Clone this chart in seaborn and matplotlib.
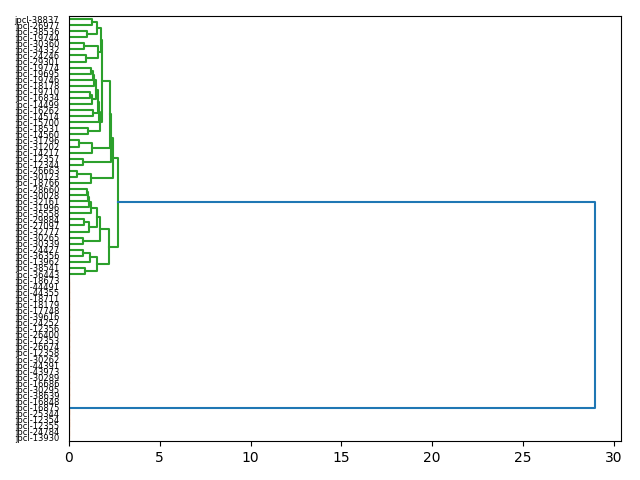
import matplotlib
matplotlib.use("Agg")
import matplotlib.pyplot as plt
import seaborn as sns
import pandas as pd

# Leaf labels, top to bottom
leaf_labels = [
    "jpcl-38837", "jpcl-26977", "jpcl-38536", "jpcl-19744", "jpcl-30360",
    "jpcl-34332", "jpcl-24246", "jpcl-29301", "jpcl-19774", "jpcl-19695",
    "jpcl-19746", "jpcl-18178", "jpcl-19710", "jpcl-16834", "jpcl-14499",
    "jpcl-16262", "jpcl-14514", "jpcl-15700", "jpcl-18531", "jpcl-14560",
    "jpcl-31796", "jpcl-31202", "jpcl-14217", "jpcl-12357", "jpcl-12344",
    "jpcl-26663", "jpcl-30123", "jpcl-18766", "jpcl-28660", "jpcl-30028",
    "jpcl-32161", "jpcl-31996", "jpcl-35558", "jpcl-29884", "jpcl-27097",
    "jpcl-32777", "jpcl-30265", "jpcl-30339", "jpcl-24427", "jpcl-36356",
    "jpcl-13962", "jpcl-38541", "jpcl-36443", "jpcl-18673", "jpcl-44491",
    "jpcl-44355", "jpcl-18711", "jpcl-18179", "jpcl-17748", "jpcl-39616",
    "jpcl-24252", "jpcl-12356", "jpcl-26400", "jpcl-12353", "jpcl-26674",
    "jpcl-12358", "jpcl-30262", "jpcl-44391", "jpcl-43973", "jpcl-30289",
    "jpcl-16686", "jpcl-30295", "jpcl-38639", "jpcl-16848", "jpcl-16875",
    "jpcl-25344", "jpcl-12354", "jpcl-12355", "jpcl-24784", "jpcl-13930",
]

# Linkage: merge k creates node 70+k from (merge_a[k], merge_b[k]) at merge_h[k]
merge_a = [0, 2, 70, 4, 6, 73, 72, 8, 77, 78,
           12, 80, 79, 15, 82, 84, 18, 85, 76, 20,
           89, 88, 23, 91, 25, 94, 93, 28, 97, 98,
           99, 33, 101, 100, 36, 103, 38, 106, 41, 107,
           105, 96,
           43, 112, 113, 114, 115, 116, 117, 118, 119, 120,
           121, 122, 123, 124, 125, 126, 127, 128, 129, 130,
           64, 66, 68, 133, 132, 131, 111]
merge_b = [1, 3, 71, 5, 7, 74, 75, 9, 10, 11,
           13, 14, 81, 16, 83, 17, 19, 86, 87, 21,
           22, 90, 24, 92, 26, 27, 95, 29, 30, 31,
           32, 34, 35, 102, 37, 104, 39, 40, 42, 108,
           109, 110,
           44, 45, 46, 47, 48, 49, 50, 51, 52, 53,
           54, 55, 56, 57, 58, 59, 60, 61, 62, 63,
           65, 67, 69, 134, 135, 136, 137]
merge_h = [1.28, 0.97, 1.52, 0.80, 0.95, 1.62, 1.74, 1.21, 1.30, 1.40,
           1.15, 1.25, 1.50, 1.34, 1.60, 1.65, 1.07, 1.70, 1.80, 0.57,
           1.25, 2.26, 0.79, 2.32, 0.42, 1.21, 2.41, 0.98, 1.05, 1.12,
           1.20, 0.84, 1.12, 1.55, 0.79, 1.71, 0.79, 1.16, 0.88, 1.55,
           2.20, 2.72,
           0, 0, 0, 0, 0, 0, 0, 0, 0, 0,
           0, 0, 0, 0, 0, 0, 0, 0, 0, 0,
           0, 0, 0, 0, 0, 0, 28.96]

n = len(leaf_labels)
pos = {i: 10 * (n - 1 - i) + 5 for i in range(n)}
hgt = {i: 0.0 for i in range(n)}
children = {}
for k, (a, b, h) in enumerate(zip(merge_a, merge_b, merge_h)):
    node = n + k
    pos[node] = (pos[a] + pos[b]) / 2
    hgt[node] = h
    children[node] = (a, b)

root = n + len(merge_h) - 1
threshold = 0.7 * max(merge_h)
palette_cycle = ["#ff7f0e", "#2ca02c", "#d62728", "#9467bd"]
above_color = "#1f77b4"

node_color = {}
cluster_roots = []


def find_clusters(node):
    if node < n:
        return
    if hgt[node] > threshold:
        node_color[node] = above_color
        for c in children[node]:
            find_clusters(c)
    else:
        cluster_roots.append(node)


find_clusters(root)
# colours assigned in leaf order (bottom first)
cluster_roots.sort(key=lambda c: pos[c])


def paint(node, col):
    if node < n:
        return
    node_color[node] = col
    for c in children[node]:
        paint(c, col)


for i, c in enumerate(cluster_roots):
    paint(c, palette_cycle[i % len(palette_cycle)])

rows = []
for node, (a, b) in children.items():
    xs = [hgt[a], hgt[node], hgt[node], hgt[b]]
    ys = [pos[a], pos[a], pos[b], pos[b]]
    for j in range(4):
        rows.append({"x": xs[j], "y": ys[j], "link": node, "order": j,
                     "color": node_color[node]})
df = pd.DataFrame(rows)

fig, ax = plt.subplots(figsize=(6.4, 4.8), dpi=100)
fig.subplots_adjust(left=0.1078, right=0.9703, top=0.9667, bottom=0.0813)

colors = list(dict.fromkeys(df["color"]))
sns.lineplot(data=df, x="x", y="y", units="link", estimator=None, sort=False,
             hue="color", palette={c: c for c in colors}, legend=False,
             linewidth=1.5, ax=ax)

ax.set_xlim(0, max(merge_h) * 1.05)
ax.set_ylim(0, 10 * n)
ax.set_yticks([pos[i] for i in range(n)])
ax.set_yticklabels(leaf_labels, fontsize=6)
for line in ax.get_yticklines():
    line.set_visible(False)
ax.set_xlabel("")
ax.set_ylabel("")

fig.savefig("out.png", dpi=100)
